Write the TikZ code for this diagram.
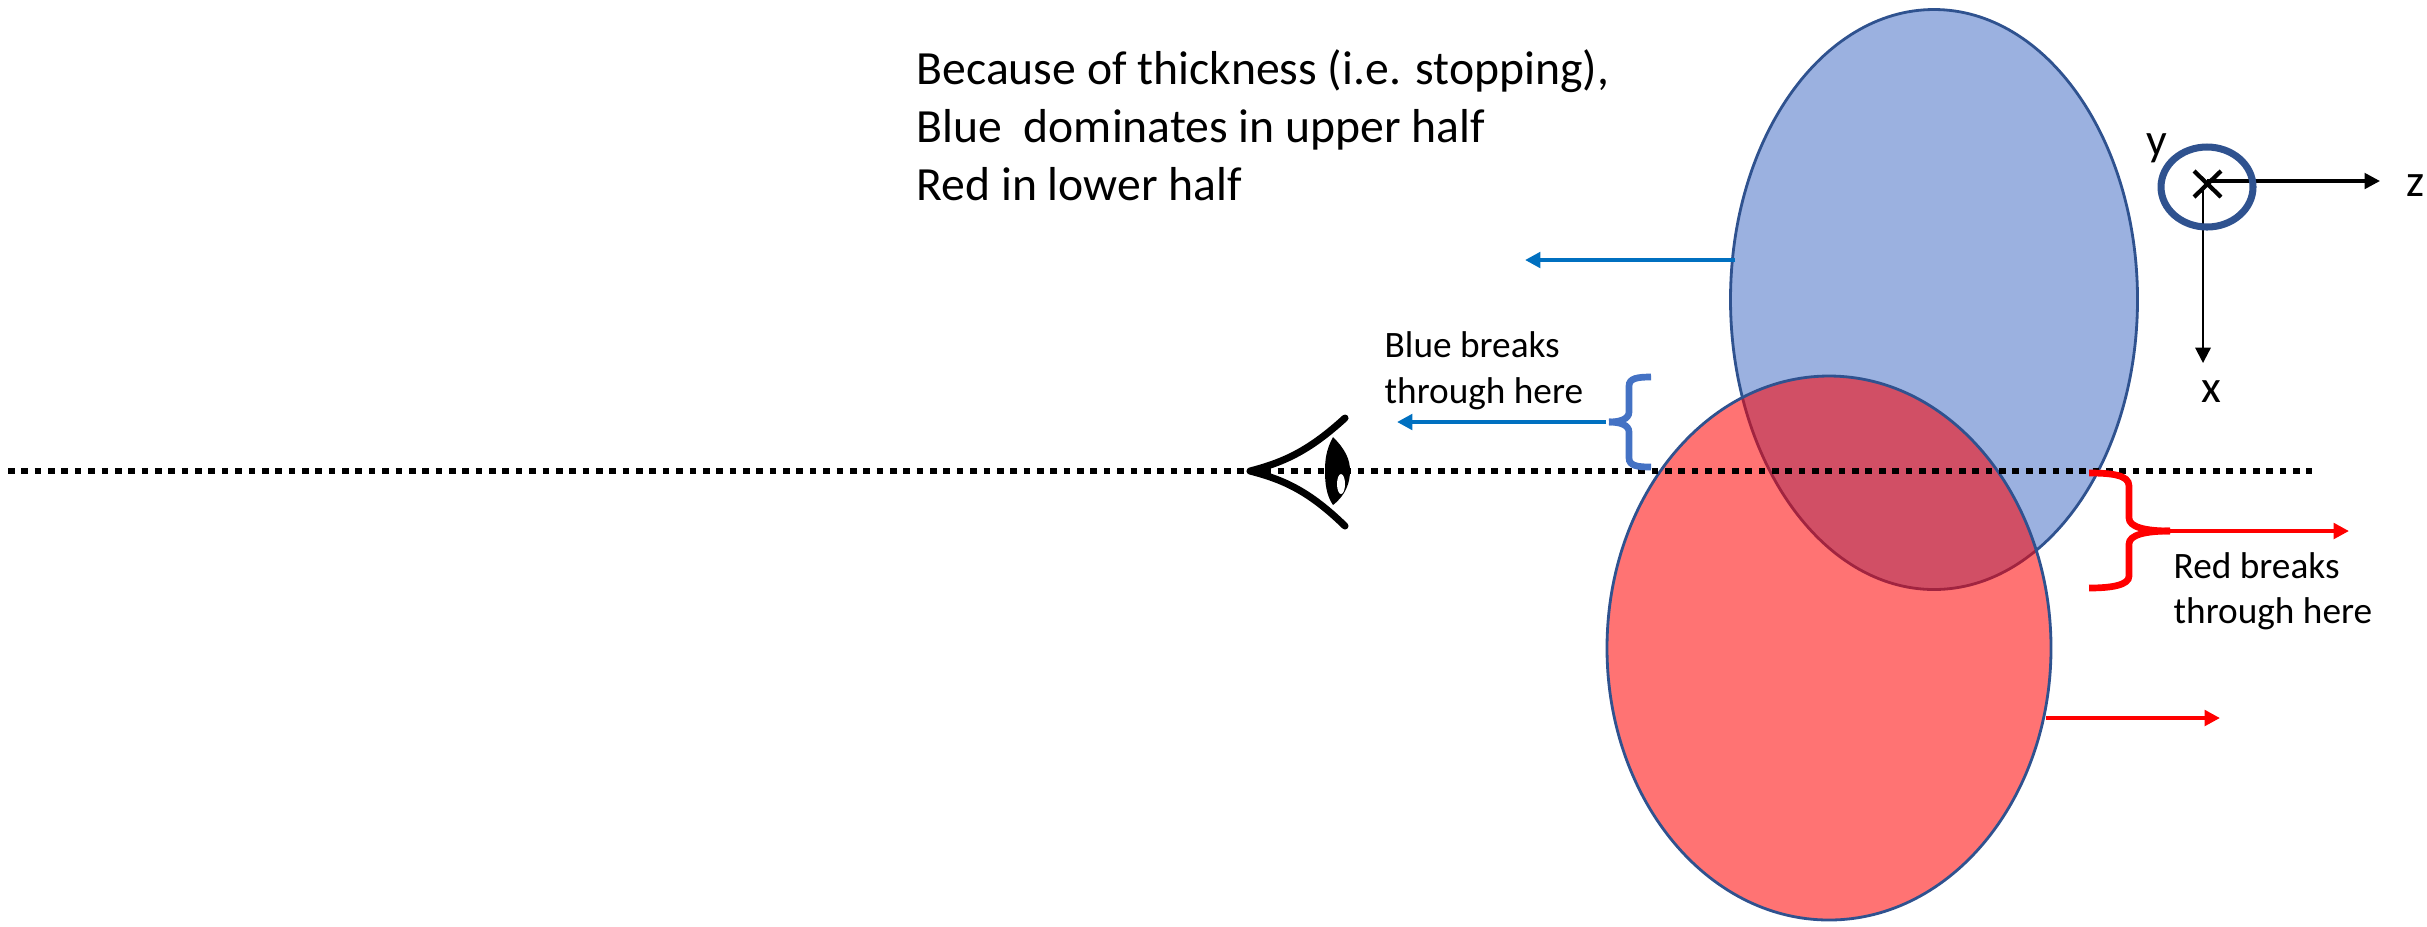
\documentclass[tikz,border=0pt]{standalone}
\usepackage{fontspec}
\setmainfont{Carlito}
\usetikzlibrary{arrows.meta,calc,positioning}
\definecolor{blobblue}{RGB}{155,177,224}
\definecolor{bloboutline}{RGB}{47,82,143}
\definecolor{bracefblue}{RGB}{68,114,196}
\definecolor{arrowblue}{RGB}{0,112,192}
\tikzset{
  bigtext/.style={anchor=base west, inner sep=0pt, font=\fontsize{13.55}{16.4}\selectfont},
  smalltext/.style={anchor=base west, inner sep=0pt, font=\fontsize{10.6}{12.8}\selectfont},
  axistext/.style={inner sep=0pt, font=\fontsize{13}{15}\selectfont},
  tipped/.style={-{Triangle[length=4.4pt,width=4.4pt]}}
}
\begin{document}
\begin{tikzpicture}[x=0.01cm, y=-0.01cm]
\useasboundingbox (0,0) rectangle (2427,926);
% ellipses
\fill[blobblue] (1934,299.5) ellipse [x radius=203.5, y radius=290];
\draw[bloboutline, line width=0.8pt] (1934,299.5) ellipse [x radius=203.5, y radius=290];
\fill[red, fill opacity=0.55] (1829,648) ellipse [x radius=222, y radius=272];
\draw[bloboutline, line width=0.8pt] (1829,648) ellipse [x radius=222, y radius=272];
% dotted axis
\coordinate (axisL) at (8,471);
\coordinate (axisR) at (2312,471);
\draw[line width=1.9pt, dash pattern=on 1.9pt off 1.9pt] (axisL) -- (axisR);
% eye
\draw[line width=2pt, line cap=round, line join=round] (1345,418) .. controls (1310,450) and (1285,462) .. (1250,471) .. controls (1285,480) and (1310,492) .. (1345,526);
\fill (1333,437) .. controls (1346,450) and (1350,460) .. (1350,471) .. controls (1350,482) and (1346,495) .. (1333,505) .. controls (1326,495) and (1325,482) .. (1325,471) .. controls (1325,460) and (1326,450) .. (1333,437) -- cycle;
\fill[white] (1341,484) ellipse [x radius=4, y radius=10];
% text
\node[bigtext] (thick) at (916,84.5) {Because of thickness (i.e. stopping),};
\node[bigtext] (bluedom) at (916,142) {Blue\ \ dominates in upper half};
\node[bigtext] (redlow) at (916,200) {Red in lower half};
\node[smalltext] (bluebreak) at (1384,357) {Blue breaks};
\node[smalltext] (bluehere) at (1384,403) {through here};
\node[smalltext] (redbreak) at (2173,578) {Red breaks};
\node[smalltext] (redhere) at (2173,623) {through here};
% blue brace and arrows
\draw[bracefblue, line width=1.9pt] (1651,377) .. controls (1638,377) and (1629,378) .. (1629,386) -- (1629,412) .. controls (1629,419) and (1620,422) .. (1609,422);
\draw[bracefblue, line width=1.9pt] (1609,422) .. controls (1620,422) and (1629,425) .. (1629,432) -- (1629,458) .. controls (1629,466) and (1638,467) .. (1651,467);
\coordinate (bluestart) at (1606,422);
\coordinate (blueend) at (1397,422);
\draw[tipped, arrowblue, line width=1.1pt] (bluestart) -- (blueend);
\coordinate (bluetop) at (1735,260);
\coordinate (bluetopend) at (1525,260);
\draw[tipped, arrowblue, line width=1.1pt] (bluetop) -- (bluetopend);
% red brace and arrows
\draw[red, line width=1.9pt] (2089,473) .. controls (2112,473) and (2129,475) .. (2129,486) -- (2129,518) .. controls (2129,527) and (2145,531) .. (2170,531);
\draw[red, line width=1.9pt] (2170,531) .. controls (2145,531) and (2129,535) .. (2129,544) -- (2129,576) .. controls (2129,585) and (2112,588) .. (2089,588);
\coordinate (redstart) at (2168,531);
\coordinate (redend) at (2349,531);
\draw[tipped, red, line width=1.1pt] (redstart) -- (redend);
\coordinate (redlowstart) at (2046,718);
\coordinate (redlowend) at (2220,718);
\draw[tipped, red, line width=1.1pt] (redlowstart) -- (redlowend);
% axes
\coordinate (zstart) at (2207,181);
\coordinate (zend) at (2380,181);
\draw[tipped, line width=1pt] (zstart) -- (zend);
\coordinate (xstart) at (2203,190);
\coordinate (xend) at (2203,363);
\draw[tipped, line width=0.6pt] (xstart) -- (xend);
\draw[bloboutline, line width=2pt] (2207,187) ellipse [x radius=46, y radius=40];
\draw[line width=1.2pt] (2194,171) -- (2221,197) (2194,197) -- (2221,171);
\node[axistext] (ylab) at (2157,148) {y};
\node[axistext] (zlab) at (2415,186) {z};
\node[axistext] (xlab) at (2211,392) {x};
\end{tikzpicture}
\end{document}
